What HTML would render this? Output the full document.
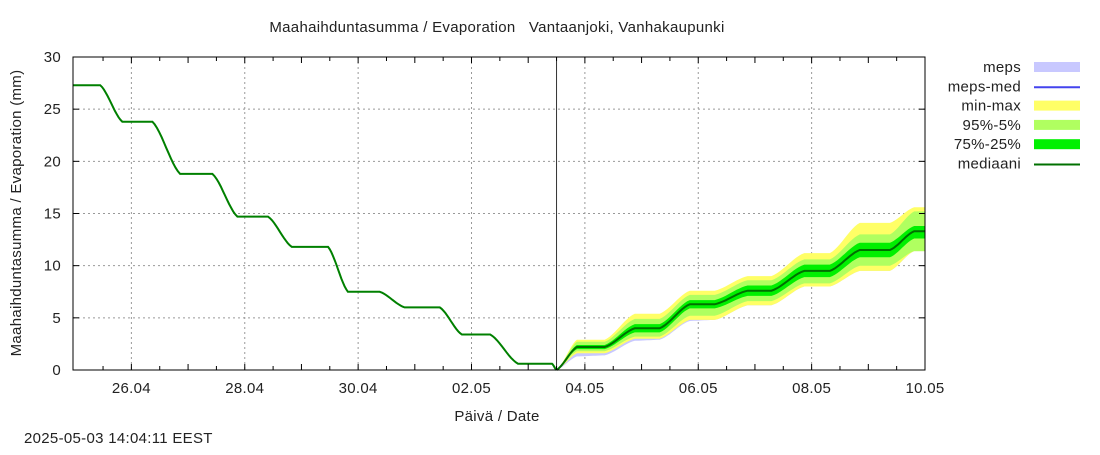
<!DOCTYPE html>
<html><head><meta charset="utf-8"><style>
body{margin:0;background:#fff;}
svg text{font-family:"Liberation Sans","DejaVu Sans",sans-serif;font-size:15px;fill:#222;letter-spacing:0.3px;}
</style></head><body>
<svg id="chart" width="1100" height="450" viewBox="0 0 1100 450" xmlns="http://www.w3.org/2000/svg">
<rect width="1100" height="450" fill="#fff"/>
<text x="497" y="32" text-anchor="middle" xml:space="preserve">Maahaihduntasumma / Evaporation&#160;&#160;&#160;Vantaanjoki, Vanhakaupunki</text>
<g id="grid"></g>
<g id="bands"></g>
<g id="lines"></g>
<g id="axes"></g>
<text transform="translate(21,213) rotate(-90)" text-anchor="middle">Maahaihduntasumma / Evaporation (mm)</text>
<text x="497" y="421" text-anchor="middle">Päivä / Date</text>
<text x="24" y="443">2025-05-03 14:04:11 EEST</text>
<g id="legend"></g>
</svg>
<script>
// days relative to 26.04 00:00
const histT = [-1.03, -0.55, -0.16, 0.37, 0.86, 1.43, 1.87, 2.41, 2.83, 3.47, 3.82, 4.38, 4.82, 5.44, 5.83, 6.33, 6.82, 7.42, 7.5];
const histV = [27.3, 27.3, 23.8, 23.8, 18.8, 18.8, 14.7, 14.7, 11.8, 11.8, 7.5, 7.5, 6.0, 6.0, 3.4, 3.4, 0.6, 0.6, 0.0];
const fcT  = [7.5, 7.86, 8.35, 8.88, 9.32, 9.85, 10.29, 10.87, 11.29, 11.87, 12.32, 12.85, 13.38, 13.81, 14.0];
const fcMed = [0, 2.2, 2.2, 4.0, 4.0, 6.3, 6.3, 7.6, 7.6, 9.5, 9.5, 11.5, 11.5, 13.3, 13.3];
const fcP75 = [0, 2.4, 2.4, 4.4, 4.4, 6.7, 6.7, 8.1, 8.1, 10.1, 10.1, 12.2, 12.2, 13.8, 13.8];
const fcP25 = [0, 2.0, 2.0, 3.6, 3.6, 5.9, 5.9, 7.1, 7.1, 8.9, 8.9, 10.8, 10.8, 12.6, 12.6];
const fcP95 = [0, 2.7, 2.7, 4.9, 4.9, 7.2, 7.2, 8.6, 8.6, 10.6, 10.6, 13.0, 13.0, 15.2, 15.2];
const fcP5  = [0, 1.8, 1.8, 3.2, 3.2, 5.2, 5.2, 6.6, 6.6, 8.3, 8.3, 10.0, 10.0, 11.4, 11.4];
const fcMax = [0, 2.9, 2.9, 5.4, 5.4, 7.6, 7.6, 9.0, 9.0, 11.2, 11.2, 14.1, 14.1, 15.6, 15.6];
const fcMin = [0, 1.6, 1.6, 3.0, 3.0, 4.8, 4.8, 6.2, 6.2, 8.0, 8.0, 9.5, 9.5, 11.4, 11.4];
const mepsHi = [0, 2.3, 2.3, 4.2, 4.2, 6.5, 6.5, 7.8, 7.8, 9.7, 9.7, 11.7, 11.7, 13.4, 13.4];
const mepsLo = [0, 1.3, 1.4, 2.8, 2.9, 4.7, 4.8, 6.2, 6.2, 8.0, 8.0, 9.5, 9.5, 11.4, 11.4];
const xTickLabels = ["26.04","28.04","30.04","02.05","04.05","06.05","08.05","10.05"];
const xTickDays = [0, 2, 4, 6, 8, 10, 12, 14];
const yTicks = [0, 5, 10, 15, 20, 25, 30];
const nowDay = 7.5;

const L=73, R=925, T=57, B=370, t0=-1.03, t1=14, yMax=30;
const X = t => L + (t - t0) / (t1 - t0) * (R - L);
const Y = v => B - v / yMax * (B - T);
const NS = "http://www.w3.org/2000/svg";
function mk(tag, attrs, parent){const e=document.createElementNS(NS,tag);for(const k in attrs)e.setAttribute(k,attrs[k]);parent.appendChild(e);return e;}
function ease(f){const g=f*f*(3-2*f);return 0.5*g+0.5*f;}
function sample(ts, vs){const pts=[];for(let i=0;i<ts.length-1;i++){for(let s=0;s<12;s++){const f=s/12,g=ease(f);pts.push([ts[i]+(ts[i+1]-ts[i])*f, vs[i]+(vs[i+1]-vs[i])*g]);}}pts.push([ts[ts.length-1],vs[vs.length-1]]);return pts;}
function linePath(ts,vs){return sample(ts,vs).map((p,i)=>(i?'L':'M')+X(p[0]).toFixed(1)+','+Y(p[1]).toFixed(1)).join('');}
function bandPath(ts,lo,hi){const a=sample(ts,hi),b=sample(ts,lo).reverse();return a.concat(b).map((p,i)=>(i?'L':'M')+X(p[0]).toFixed(1)+','+Y(p[1]).toFixed(1)).join('')+'Z';}

const grid=document.getElementById('grid'), axes=document.getElementById('axes'), bands=document.getElementById('bands'), lines=document.getElementById('lines'), legend=document.getElementById('legend');
yTicks.forEach(v=>{
  if(v>0&&v<yMax){const g=mk('line',{x1:L,x2:R,y1:Y(v),y2:Y(v),stroke:'#999','stroke-dasharray':'2,3'},grid);
  
  }
  mk('line',{x1:L,x2:L+6,y1:Y(v),y2:Y(v),stroke:'#000'},axes);
  mk('line',{x1:R-6,x2:R,y1:Y(v),y2:Y(v),stroke:'#000'},axes);
  const t=mk('text',{x:L-12,y:Y(v)+5,'text-anchor':'end'},axes);t.textContent=v;
  
  
});
xTickDays.forEach((d,i)=>{
  if(d<t1){const g=mk('line',{x1:X(d),x2:X(d),y1:T,y2:B,stroke:'#999','stroke-dasharray':'2,3'},grid);
  
  }
  const t=mk('text',{x:X(d),y:393,'text-anchor':'middle'},axes);t.textContent=xTickLabels[i];
  
  
});
for(let d=-0.5; d<t1; d+=0.5){const len=Math.abs(d-Math.round(d))<0.01?6:4;
  mk('line',{x1:X(d),x2:X(d),y1:B,y2:B-len,stroke:'#000'},axes);
  mk('line',{x1:X(d),x2:X(d),y1:T,y2:T+len,stroke:'#000'},axes);}
mk('rect',{x:L,y:T,width:R-L,height:B-T,fill:'none',stroke:'#000'},axes);

const b1=mk('path',{d:bandPath(fcT,mepsLo,mepsHi),fill:'#c8c8ff'},bands);


const b2=mk('path',{d:bandPath(fcT,fcMin,fcMax),fill:'#ffff66'},bands);


const b3=mk('path',{d:bandPath(fcT,fcP5,fcP95),fill:'#b0ff60'},bands);


const b4=mk('path',{d:bandPath(fcT,fcP25,fcP75),fill:'#00f000'},bands);


const l1=mk('path',{d:linePath(histT,histV),fill:'none',stroke:'#008000','stroke-width':2},lines);


const l2=mk('path',{d:linePath(fcT,fcMed),fill:'none',stroke:'#007000','stroke-width':2},lines);


const nl=mk('line',{x1:X(nowDay),x2:X(nowDay),y1:T,y2:B,stroke:'#333','stroke-width':1},lines);



const legItems=[["meps","rect","#c8c8ff"],["meps-med","line","#4444ee"],["min-max","rect","#ffff66"],["95%-5%","rect","#b0ff60"],["75%-25%","rect","#00f000"],["mediaani","line","#007000"]];
legItems.forEach((it,i)=>{
  const y=67+i*19.3;
  const t=mk('text',{x:1021,y:y+5,'text-anchor':'end'},legend);t.textContent=it[0];
  
  
  const s = it[1]==='rect' ? mk('rect',{x:1034,y:y-5,width:46,height:10,fill:it[2]},legend)
                           : mk('line',{x1:1034,x2:1080,y1:y+1,y2:y+1,stroke:it[2],'stroke-width':2},legend);
  
  
});
</script>
</body></html>
